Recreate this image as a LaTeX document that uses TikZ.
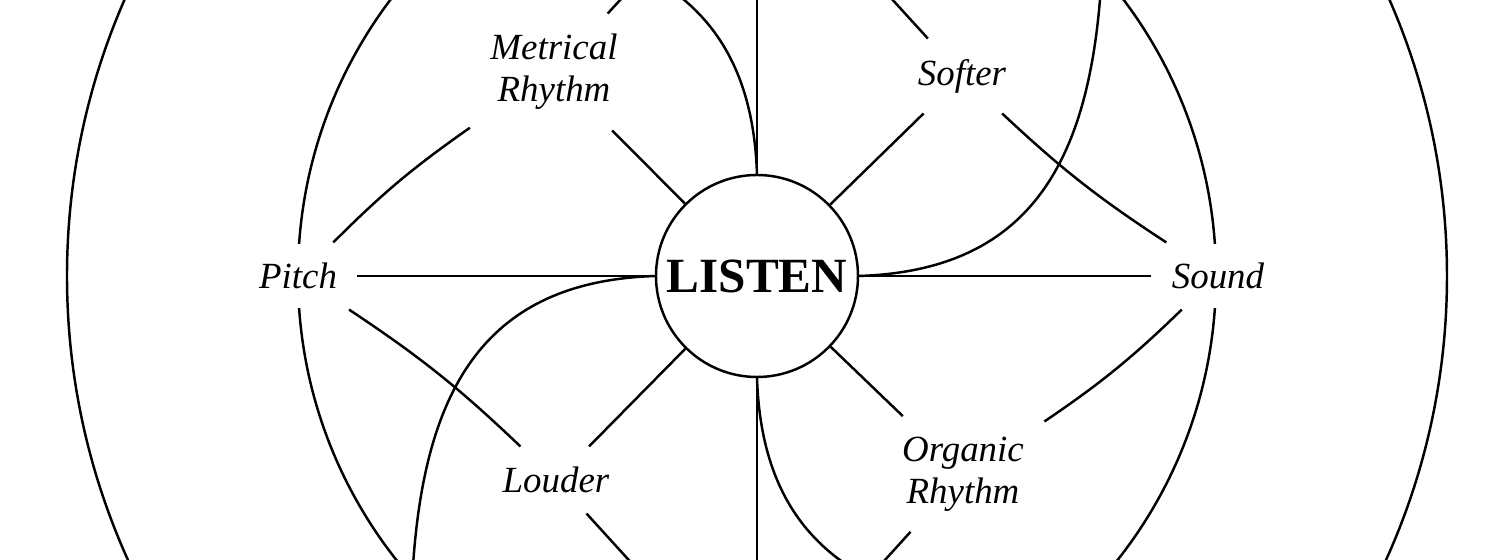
\documentclass[tikz,border=0pt]{standalone}
\usepackage{fontspec}
\setmainfont{Liberation Serif}
\begin{document}
\begin{tikzpicture}[line width=0.7pt,
    word/.style={font=\fontsize{10.5}{12}\selectfont\itshape, align=center, fill=white, inner sep=5.5pt}]
    \useasboundingbox (-7.57,-2.84) rectangle (7.43,2.76);
    \clip (-7.57,-2.84) rectangle (7.43,2.76);
    % Draw the rings
    \draw (0,0) circle (6.90);
    \draw (0,0) circle (4.59);
    % Draw the pinwheel curves
    \foreach \a in {0,90,180,270} {
        \draw[rotate=\a] (1.01,0) .. controls (2.7,0.05) and (3.32,1.1) .. (3.44,2.9);
    }
    % Place the words
    \node[draw, fill=white, circle, minimum size=2.02cm, inner sep=0pt, font=\fontsize{14}{14}\selectfont\bfseries] (listen) at (0,0) {LISTEN};
    \node[word] (pitch) at (-4.59,0) {Pitch};
    \node[word] (sound) at (4.61,0) {Sound};
    \node[word] (metrical) at (-2.03,2.04) {Metrical\\Rhythm};
    \node[word] (softer) at (2.05,2.0) {Softer};
    \node[word] (louder) at (-2.01,-2.04) {Louder};
    \node[word] (organic) at (2.06,-1.98) {Organic\\Rhythm};
    \coordinate (top) at (0,4.25);
    \coordinate (bottom) at (0,-4.25);
    % Draw the spokes
    \foreach \w in {pitch,metrical,top,softer,sound,organic,bottom,louder}
        \draw (listen) -- (\w);
    % Connect the words
    \draw (pitch) to[bend left=5] (metrical);
    \draw (metrical) -- (top);
    \draw (top) -- (softer);
    \draw (softer) to[bend right=5] (sound);
    \draw (sound) to[bend left=5] (organic);
    \draw (organic) -- (bottom);
    \draw (bottom) -- (louder);
    \draw (louder) to[bend right=5] (pitch);
\end{tikzpicture}
\end{document}
